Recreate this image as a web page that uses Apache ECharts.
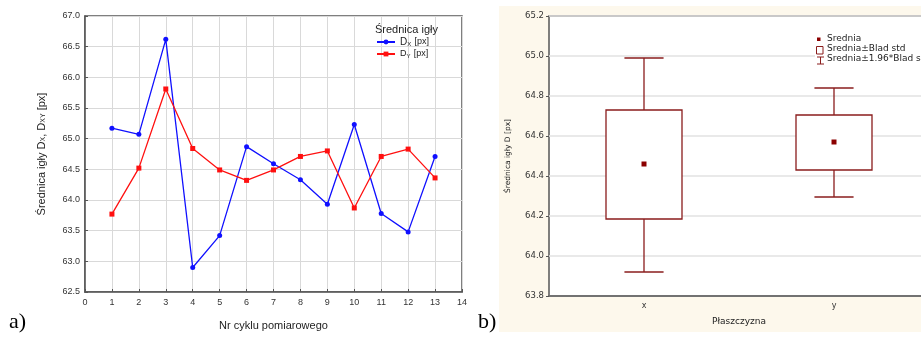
<!DOCTYPE html>
<html>
<head>
<meta charset="utf-8">
<script src="https://cdn.jsdelivr.net/npm/echarts@6/dist/echarts.min.js"></script>
<style>
  html, body { margin: 0; padding: 0; background: #fff; }
  #chart { width: 921px; height: 338px; }
</style>
</head>
<body>
<div id="chart"></div>
<script>
// a) measurement cycles
const cycles = [1, 2, 3, 4, 5, 6, 7, 8, 9, 10, 11, 12, 13];
const dx = [65.17, 65.07, 66.62, 62.90, 63.42, 64.87, 64.59, 64.33, 63.93, 65.23, 63.78, 63.48, 64.71];
const dy = [63.77, 64.52, 65.81, 64.84, 64.49, 64.32, 64.49, 64.71, 64.80, 63.87, 64.71, 64.83, 64.36];

// b) mean +- std error, mean +- 1.96 std error
const planes = ['x', 'y'];
const means = [64.46, 64.57];
const seLow = [64.185, 64.43];
const seHigh = [64.73, 64.705];
const ciLow = [63.92, 64.295];
const ciHigh = [64.99, 64.84];

const font = 'Liberation Sans, Arial, sans-serif';
const fontB = 'DejaVu Sans, sans-serif';
const boxColor = '#8a1c1c';
const meanColor = '#8b0000';

const chart = echarts.init(document.getElementById('chart'), null, { renderer: 'canvas' });

function renderBox(params, api) {
  const mean = api.coord([api.value(0), api.value(1)]);
  const sLo = api.coord([api.value(0), api.value(2)]);
  const sHi = api.coord([api.value(0), api.value(3)]);
  const cLo = api.coord([api.value(0), api.value(4)]);
  const cHi = api.coord([api.value(0), api.value(5)]);
  const bw = api.size([1, 0])[0];
  const half = bw * 0.2;
  const cap = bw * 0.103;
  const x = mean[0];
  const line = { stroke: boxColor, lineWidth: 1.3 };
  return {
    type: 'group',
    children: [
      { type: 'line', shape: { x1: x, y1: cHi[1], x2: x, y2: sHi[1] }, style: line },
      { type: 'line', shape: { x1: x, y1: sLo[1], x2: x, y2: cLo[1] }, style: line },
      { type: 'line', shape: { x1: x - cap, y1: cHi[1], x2: x + cap, y2: cHi[1] }, style: line },
      { type: 'line', shape: { x1: x - cap, y1: cLo[1], x2: x + cap, y2: cLo[1] }, style: line },
      { type: 'rect', shape: { x: x - half, y: sHi[1], width: half * 2, height: sLo[1] - sHi[1] },
        style: { fill: '#fff', stroke: boxColor, lineWidth: 1.3 } },
      { type: 'rect', shape: { x: x - 2.5, y: mean[1] - 2.5, width: 5, height: 5 },
        style: { fill: meanColor } }
    ]
  };
}

const option = {
  animation: false,
  textStyle: { fontFamily: font },
  title: {
    text: 'Średnica igły',
    left: 375, top: 24, padding: 0,
    textStyle: { fontSize: 11, fontWeight: 'normal', color: '#222', fontFamily: font }
  },
  legend: {
    orient: 'vertical',
    left: 376, top: 36, padding: 0,
    itemWidth: 18, itemHeight: 6, itemGap: 0,
    data: ['Dx', 'Dy'],
    formatter: name => name === 'Dx' ? '{m|D}{s|X} {p|[px]}' : '{p|D}{s|Y} {p|[px]}',
    textStyle: {
      fontFamily: font,
      rich: {
        m: { fontSize: 10, color: '#222', fontFamily: font, lineHeight: 12 },
        p: { fontSize: 9, color: '#222', fontFamily: font, lineHeight: 12 },
        s: { fontSize: 6, color: '#222', fontFamily: font, padding: [5, 0, 0, 0], lineHeight: 12 }
      }
    }
  },
  graphic: [
    { type: 'rect', z: -10, shape: { x: 499, y: 6, width: 430, height: 326 }, style: { fill: '#fdf8ec' } },
    { type: 'text', left: 9, top: 311, style: { text: 'a)', font: '22px "Liberation Serif", serif', fill: '#000' } },
    { type: 'text', left: 478, top: 311, style: { text: 'b)', font: '22px "Liberation Serif", serif', fill: '#000' } },
    // legend of panel b
    { type: 'rect', z: 5, shape: { x: 815, y: 32, width: 110, height: 35 }, style: { fill: '#fff' } },
    { type: 'rect', z: 6, shape: { x: 817, y: 37.5, width: 3.5, height: 3.5 }, style: { fill: meanColor } },
    { type: 'text', z: 6, left: 827, top: 34.5, style: { text: 'Srednia', font: '9px ' + fontB, fill: '#222' } },
    { type: 'rect', z: 6, shape: { x: 816.5, y: 46.5, width: 6.5, height: 7.5 }, style: { fill: '#fff', stroke: boxColor, lineWidth: 1 } },
    { type: 'text', z: 6, left: 827, top: 44.5, style: { text: 'Srednia±Blad std', font: '9px ' + fontB, fill: '#222' } },
    { type: 'polyline', z: 6, shape: { points: [[817, 57], [824, 57]] }, style: { stroke: boxColor, lineWidth: 1 } },
    { type: 'polyline', z: 6, shape: { points: [[820.5, 57], [820.5, 64]] }, style: { stroke: boxColor, lineWidth: 1 } },
    { type: 'polyline', z: 6, shape: { points: [[817, 64], [824, 64]] }, style: { stroke: boxColor, lineWidth: 1 } },
    { type: 'text', z: 6, left: 827, top: 54.5, style: { text: 'Srednia±1.96*Blad std', font: '9px ' + fontB, fill: '#222' } }
  ],
  grid: [
    { left: 85, top: 16, width: 377, height: 276, show: true, borderColor: '#555', borderWidth: 1.5,
      backgroundColor: '#fff', outerBoundsMode: 'none' },
    { left: 549, top: 16, width: 380, height: 280, show: true, borderColor: '#555', borderWidth: 1.5,
      backgroundColor: '#fff', outerBoundsMode: 'none' }
  ],
  xAxis: [
    {
      gridIndex: 0, type: 'value', min: 0, max: 14, interval: 1,
      name: 'Nr cyklu pomiarowego', nameLocation: 'middle', nameGap: 28,
      nameTextStyle: { fontSize: 11, color: '#222' },
      axisLine: { lineStyle: { color: '#555', width: 1.5 } },
      axisTick: { inside: true, length: 3, lineStyle: { color: '#555' } },
      axisLabel: { fontSize: 9, color: '#333', margin: 6 },
      splitLine: { show: true, lineStyle: { color: '#d9d9d9', width: 1 } }
    },
    {
      gridIndex: 1, type: 'category', data: planes,
      name: 'Płaszczyzna', nameLocation: 'middle', nameGap: 21,
      nameTextStyle: { fontSize: 9, color: '#222', fontFamily: fontB },
      axisLine: { lineStyle: { color: '#555', width: 1.5 } },
      axisTick: { alignWithLabel: true, length: 3, lineStyle: { color: '#555' } },
      axisLabel: { fontSize: 8, color: '#333', margin: 6, fontFamily: fontB },
      splitLine: { show: false }
    }
  ],
  yAxis: [
    {
      gridIndex: 0, type: 'value', min: 62.5, max: 67, interval: 0.5,
      name: 'Średnica igły D{s|X}, D{s|XY} [px]', nameLocation: 'middle', nameGap: 38,
      nameTextStyle: {
        fontSize: 11, color: '#222',
        rich: { s: { fontSize: 7, color: '#222', padding: [4, 0, 0, 0] } }
      },
      axisLine: { lineStyle: { color: '#555', width: 1.5 } },
      axisTick: { inside: true, length: 3, lineStyle: { color: '#555' } },
      axisLabel: { fontSize: 9, color: '#333', margin: 5, formatter: v => v.toFixed(1) },
      splitLine: { show: true, lineStyle: { color: '#d9d9d9', width: 1 } }
    },
    {
      gridIndex: 1, type: 'value', min: 63.8, max: 65.2, interval: 0.2,
      name: 'Średnica igły D [px]', nameLocation: 'middle', nameGap: 37,
      nameTextStyle: { fontSize: 7.5, color: '#222', fontFamily: fontB },
      axisLine: { lineStyle: { color: '#555', width: 1.5 } },
      axisTick: { show: true, length: 3, lineStyle: { color: '#555' } },
      axisLabel: { fontSize: 8.5, color: '#333', margin: 5, fontFamily: fontB, formatter: v => v.toFixed(1) },
      splitLine: { show: true, lineStyle: { color: '#e2e2e2', width: 1.5 } }
    }
  ],
  series: [
    {
      name: 'Dx', type: 'line', xAxisIndex: 0, yAxisIndex: 0,
      data: cycles.map((c, i) => [c, dx[i]]),
      color: '#1010ff',
      lineStyle: { width: 1.3 },
      symbol: 'circle', symbolSize: 5
    },
    {
      name: 'Dy', type: 'line', xAxisIndex: 0, yAxisIndex: 0,
      data: cycles.map((c, i) => [c, dy[i]]),
      color: '#ff1010',
      lineStyle: { width: 1.3 },
      symbol: 'rect', symbolSize: 5
    },
    {
      name: 'box', type: 'custom', xAxisIndex: 1, yAxisIndex: 1,
      renderItem: renderBox,
      data: planes.map((p, i) => [i, means[i], seLow[i], seHigh[i], ciLow[i], ciHigh[i]]),
      encode: { x: 0, y: [2, 3, 4, 5] }
    }
  ]
};

chart.setOption(option);
</script>
</body>
</html>
